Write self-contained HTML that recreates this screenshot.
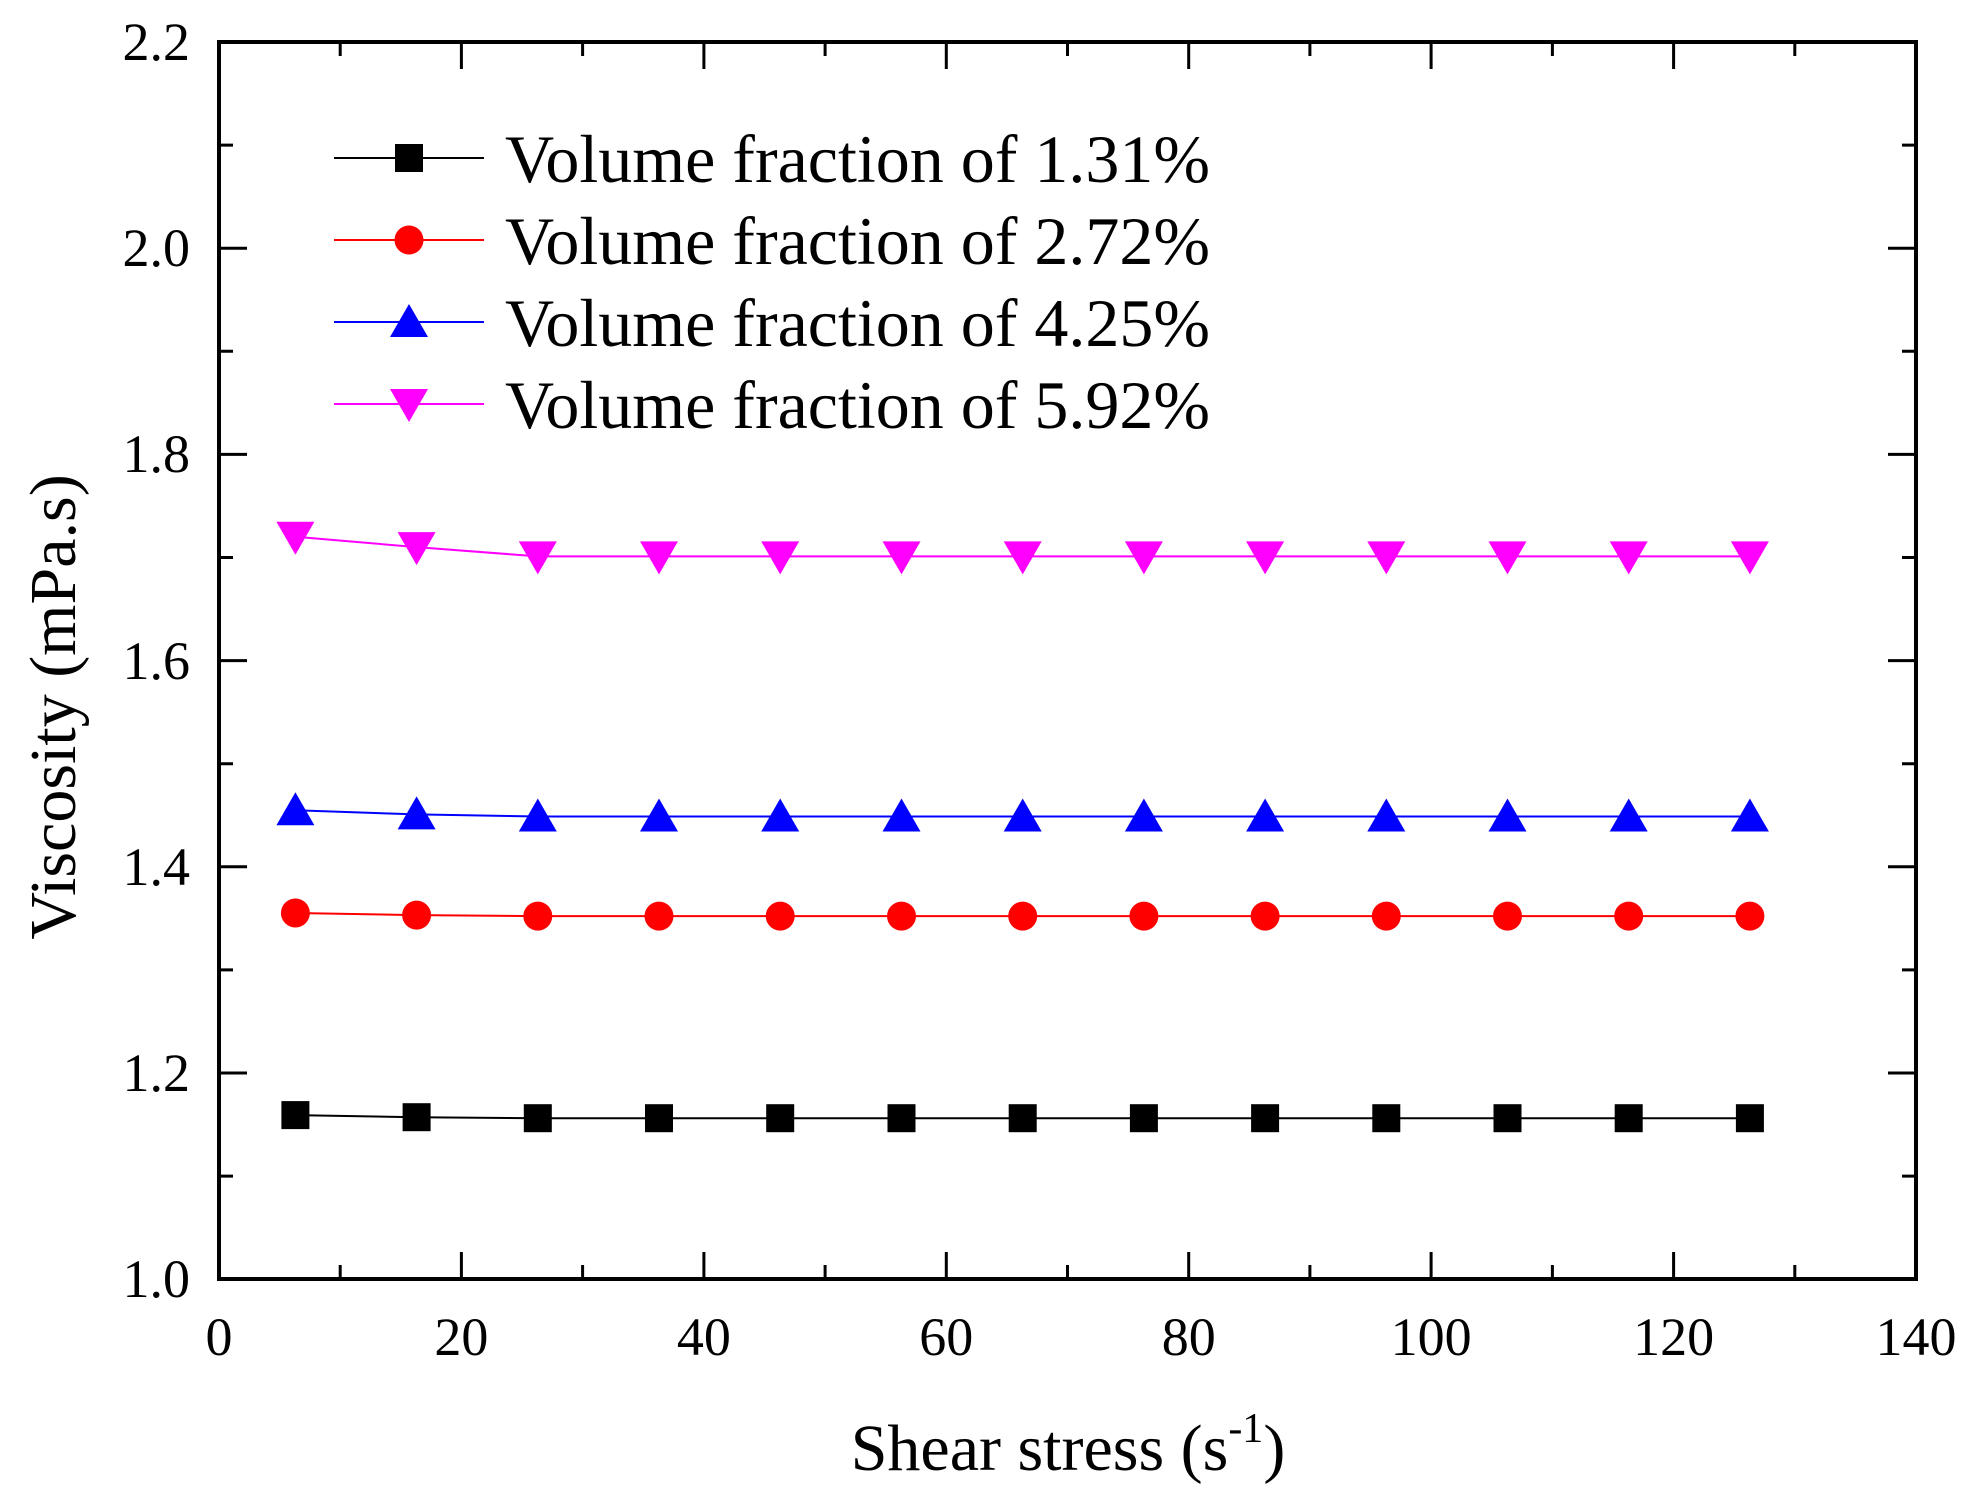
<!DOCTYPE html>
<html><head><meta charset="utf-8"><style>html,body{margin:0;padding:0;background:#fff}svg{display:block}</style></head>
<body>
<svg width="1975" height="1499" viewBox="0 0 1975 1499" xmlns="http://www.w3.org/2000/svg" font-family="Liberation Serif, serif">
<defs>
<rect id="sq" x="-14" y="-14" width="28" height="28" fill="#000"/>
<circle id="ci" r="14.5" fill="#f00"/>
<path id="tu" d="M0,-18 L19,15 L-19,15 Z" fill="#00f"/>
<path id="td" d="M0,18 L19,-15 L-19,-15 Z" fill="#f0f"/>
</defs>
<g stroke="#000" stroke-width="3">
<path d="M461.4,1279v-27M703.9,1279v-27M946.3,1279v-27M1188.7,1279v-27M1431.1,1279v-27M1673.6,1279v-27
M340.2,1279v-14M582.6,1279v-14M825.1,1279v-14M1067.5,1279v-14M1309.9,1279v-14M1552.4,1279v-14M1794.8,1279v-14
M461.4,42v27M703.9,42v27M946.3,42v27M1188.7,42v27M1431.1,42v27M1673.6,42v27
M340.2,42v14M582.6,42v14M825.1,42v14M1067.5,42v14M1309.9,42v14M1552.4,42v14M1794.8,42v14"/>
<path d="M219,248.2h28M219,454.4h28M219,660.6h28M219,866.8h28M219,1073h28
M219,145.1h14M219,351.3h14M219,557.5h14M219,763.7h14M219,969.9h14M219,1176.1h14
M1916,248.2h-28M1916,454.4h-28M1916,660.6h-28M1916,866.8h-28M1916,1073h-28
M1916,145.1h-14M1916,351.3h-14M1916,557.5h-14M1916,763.7h-14M1916,969.9h-14M1916,1176.1h-14"/>
</g>
<rect x="219" y="42" width="1697" height="1237" fill="none" stroke="#000" stroke-width="4"/>
<g font-size="54" text-anchor="end" fill="#000">
<text x="190" y="60">2.2</text><text x="190" y="266">2.0</text><text x="190" y="472">1.8</text>
<text x="190" y="679">1.6</text><text x="190" y="885">1.4</text><text x="190" y="1091">1.2</text><text x="190" y="1297">1.0</text>
</g>
<g font-size="54" text-anchor="middle" fill="#000">
<text x="219" y="1355">0</text><text x="461.4" y="1355">20</text><text x="703.9" y="1355">40</text><text x="946.3" y="1355">60</text>
<text x="1188.7" y="1355">80</text><text x="1431.1" y="1355">100</text><text x="1673.6" y="1355">120</text><text x="1916" y="1355">140</text>
</g>
<text x="1068" y="1470" font-size="66" text-anchor="middle">Shear stress (s<tspan font-size="42" dy="-28">-1</tspan><tspan dy="28">)</tspan></text>
<text transform="translate(75,707) rotate(-90)" font-size="66" text-anchor="middle">Viscosity (mPa.s)</text>
<g fill="none" stroke-width="2">
<polyline stroke="#000" points="295.4,1115.1 416.6,1117.2 537.8,1118.2 659,1118.2 780.2,1118.2 901.5,1118.2 1022.7,1118.2 1143.9,1118.2 1265.1,1118.2 1386.3,1118.2 1507.5,1118.2 1628.7,1118.2 1749.9,1118.2"/>
<polyline stroke="#f00" points="295.4,913 416.6,915.1 537.8,916.1 659,916.1 780.2,916.1 901.5,916.1 1022.7,916.1 1143.9,916.1 1265.1,916.1 1386.3,916.1 1507.5,916.1 1628.7,916.1 1749.9,916.1"/>
<polyline stroke="#00f" points="295.4,810.3 416.6,814.4 537.8,816.5 659,816.5 780.2,816.5 901.5,816.5 1022.7,816.5 1143.9,816.5 1265.1,816.5 1386.3,816.5 1507.5,816.5 1628.7,816.5 1749.9,816.5"/>
<polyline stroke="#f0f" points="295.4,536.8 416.6,547.1 537.8,556.4 659,556.4 780.2,556.4 901.5,556.4 1022.7,556.4 1143.9,556.4 1265.1,556.4 1386.3,556.4 1507.5,556.4 1628.7,556.4 1749.9,556.4"/>
</g>
<g>
<use href="#sq" x="295.4" y="1115.1"/><use href="#sq" x="416.6" y="1117.2"/><use href="#sq" x="537.8" y="1118.2"/><use href="#sq" x="659" y="1118.2"/><use href="#sq" x="780.2" y="1118.2"/><use href="#sq" x="901.5" y="1118.2"/><use href="#sq" x="1022.7" y="1118.2"/><use href="#sq" x="1143.9" y="1118.2"/><use href="#sq" x="1265.1" y="1118.2"/><use href="#sq" x="1386.3" y="1118.2"/><use href="#sq" x="1507.5" y="1118.2"/><use href="#sq" x="1628.7" y="1118.2"/><use href="#sq" x="1749.9" y="1118.2"/>
<use href="#ci" x="295.4" y="913"/><use href="#ci" x="416.6" y="915.1"/><use href="#ci" x="537.8" y="916.1"/><use href="#ci" x="659" y="916.1"/><use href="#ci" x="780.2" y="916.1"/><use href="#ci" x="901.5" y="916.1"/><use href="#ci" x="1022.7" y="916.1"/><use href="#ci" x="1143.9" y="916.1"/><use href="#ci" x="1265.1" y="916.1"/><use href="#ci" x="1386.3" y="916.1"/><use href="#ci" x="1507.5" y="916.1"/><use href="#ci" x="1628.7" y="916.1"/><use href="#ci" x="1749.9" y="916.1"/>
<use href="#tu" x="295.4" y="810.3"/><use href="#tu" x="416.6" y="814.4"/><use href="#tu" x="537.8" y="816.5"/><use href="#tu" x="659" y="816.5"/><use href="#tu" x="780.2" y="816.5"/><use href="#tu" x="901.5" y="816.5"/><use href="#tu" x="1022.7" y="816.5"/><use href="#tu" x="1143.9" y="816.5"/><use href="#tu" x="1265.1" y="816.5"/><use href="#tu" x="1386.3" y="816.5"/><use href="#tu" x="1507.5" y="816.5"/><use href="#tu" x="1628.7" y="816.5"/><use href="#tu" x="1749.9" y="816.5"/>
<use href="#td" x="295.4" y="536.8"/><use href="#td" x="416.6" y="547.1"/><use href="#td" x="537.8" y="556.4"/><use href="#td" x="659" y="556.4"/><use href="#td" x="780.2" y="556.4"/><use href="#td" x="901.5" y="556.4"/><use href="#td" x="1022.7" y="556.4"/><use href="#td" x="1143.9" y="556.4"/><use href="#td" x="1265.1" y="556.4"/><use href="#td" x="1386.3" y="556.4"/><use href="#td" x="1507.5" y="556.4"/><use href="#td" x="1628.7" y="556.4"/><use href="#td" x="1749.9" y="556.4"/>
</g>
<g stroke-width="2">
<path d="M334,158H484" stroke="#000"/><path d="M334,240H484" stroke="#f00"/>
<path d="M334,322H484" stroke="#00f"/><path d="M334,404H484" stroke="#f0f"/>
</g>
<use href="#sq" x="409" y="158"/><use href="#ci" x="409" y="240"/><use href="#tu" x="409" y="322"/><use href="#td" x="409" y="404"/>
<g font-size="68" fill="#000">
<text x="505" y="182">Volume fraction of 1.31%</text>
<text x="505" y="264">Volume fraction of 2.72%</text>
<text x="505" y="346">Volume fraction of 4.25%</text>
<text x="505" y="428">Volume fraction of 5.92%</text>
</g>
</svg>
</body></html>
